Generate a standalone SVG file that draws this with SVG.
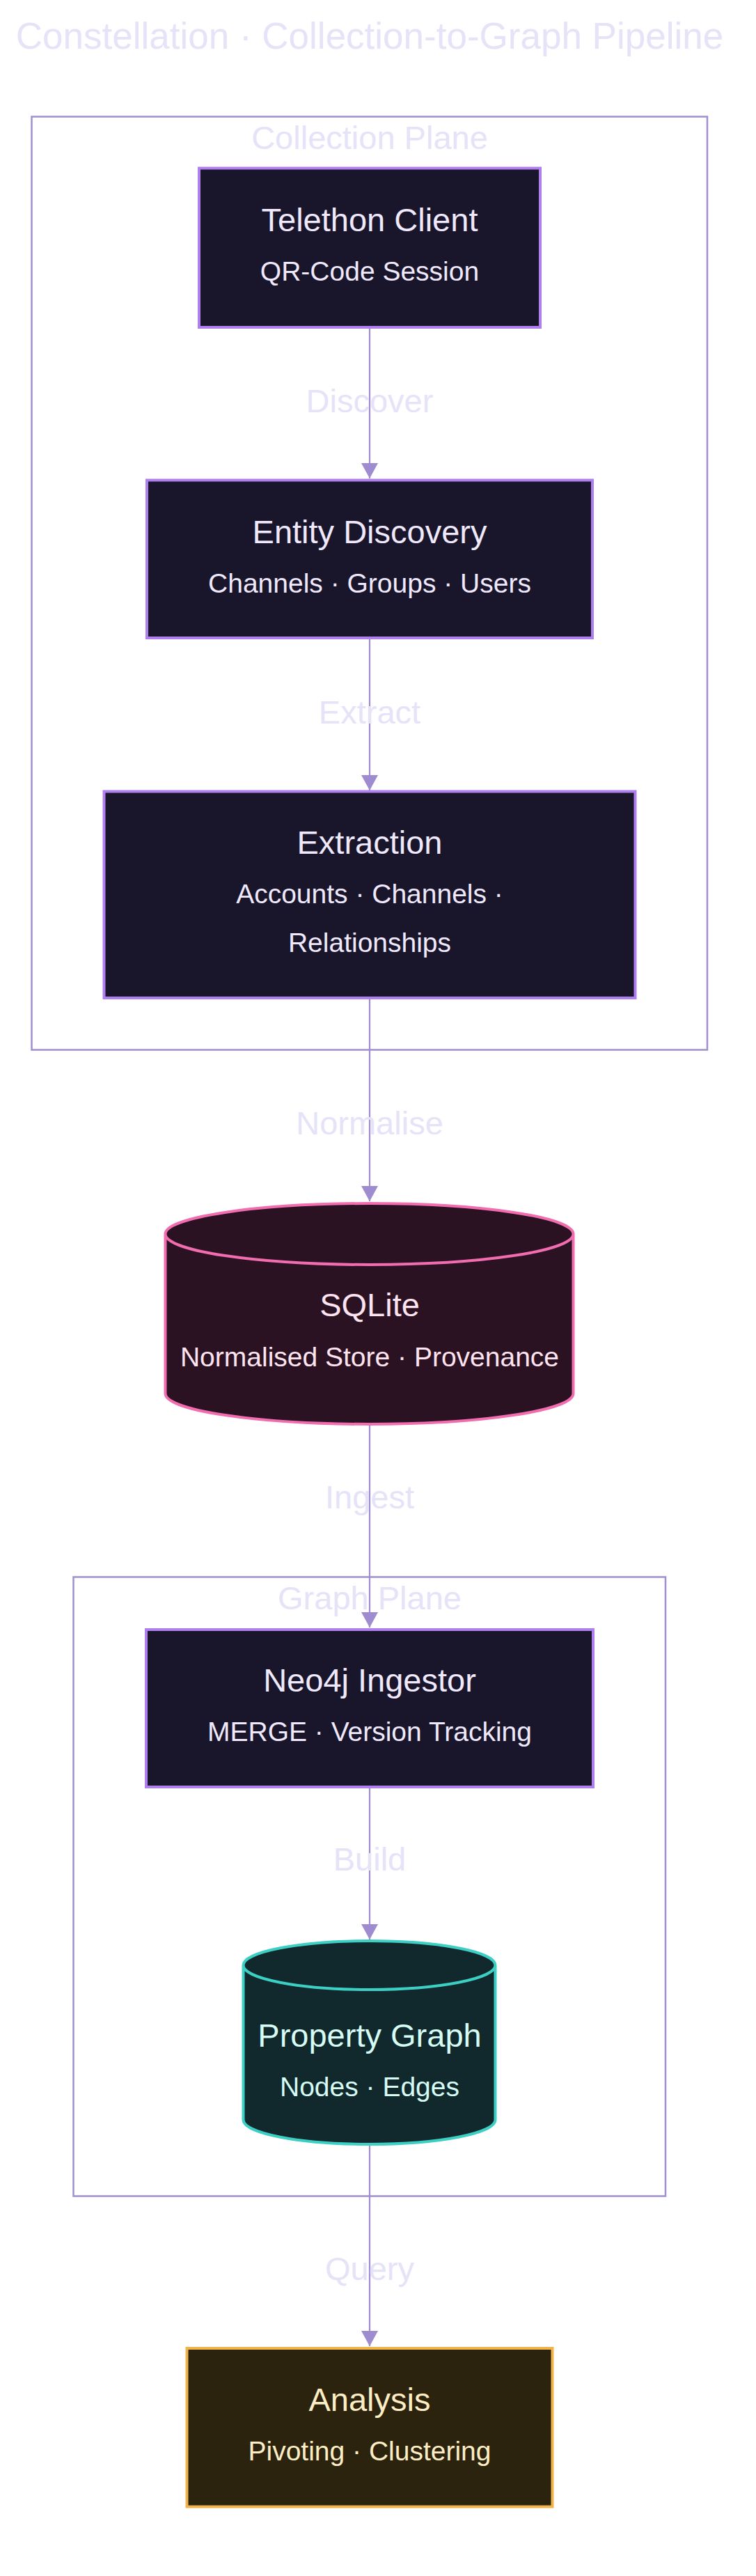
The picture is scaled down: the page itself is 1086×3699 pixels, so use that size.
<svg xmlns="http://www.w3.org/2000/svg" width="1086" height="3699" viewBox="0 0 1086 3699">
  <defs>
    <marker id="arrow" markerUnits="userSpaceOnUse" viewBox="0 0 22 24" markerWidth="22" markerHeight="24" refX="22" refY="12" orient="auto">
      <path d="M0,0 L22,12 L0,24 z" fill="#9f8cd0"/>
    </marker>
    <style>
      text { font-family: "Liberation Sans", Arial, sans-serif; text-anchor: middle; }
      .title { font-size: 53px; fill: #e6e2f8; }
      .cluster { fill: none; stroke: #a08fd1; stroke-width: 2.5; }
      .clabel { font-size: 47px; fill: #e6e2f8; }
      .elabel { font-size: 47px; fill: #e6e2f8; }
      .edge { fill: none; stroke: #9f8cd0; stroke-width: 2.2; marker-end: url(#arrow); }
      .proc rect { fill: #19162b; stroke: #b07fee; stroke-width: 4; }
      .proc text { fill: #efe9fb; }
      .store path { fill: #2b1222; stroke: #f26db0; stroke-width: 4; }
      .store text { fill: #fde4f0; }
      .graph path { fill: #11292c; stroke: #3ccfc4; stroke-width: 4; }
      .graph text { fill: #d5fbf4; }
      .out rect { fill: #2b230d; stroke: #efb54a; stroke-width: 4; }
      .out text { fill: #fdedc5; }
      .h { font-size: 47px; }
      .s { font-size: 39px; }
    </style>
  </defs>

  <rect x="0" y="0" width="1086" height="3699" fill="#ffffff"/>

  <text class="title" x="531" y="70">Constellation · Collection-to-Graph Pipeline</text>

  <g id="cluster-collection">
    <rect class="cluster" x="45.5" y="167.5" width="970.5" height="1340"/>
    <text class="clabel" x="531" y="214">Collection Plane</text>
  </g>

  <g id="cluster-graph">
    <rect class="cluster" x="105.5" y="2264.5" width="850.5" height="889"/>
    <text class="clabel" x="531" y="2311">Graph Plane</text>
  </g>

  <g id="connectors">
    <line class="edge" x1="531" y1="472" x2="531" y2="687"/>
    <line class="edge" x1="531" y1="918" x2="531" y2="1135"/>
    <line class="edge" x1="531" y1="1435" x2="531" y2="1725"/>
    <line class="edge" x1="531" y1="2047" x2="531" y2="2337"/>
    <line class="edge" x1="531" y1="2568" x2="531" y2="2785"/>
    <line class="edge" x1="531" y1="3081" x2="531" y2="3369"/>
    <text class="elabel" x="531" y="592">Discover</text>
    <text class="elabel" x="531" y="1039">Extract</text>
    <text class="elabel" x="531" y="1629">Normalise</text>
    <text class="elabel" x="531" y="2166">Ingest</text>
    <text class="elabel" x="531" y="2686">Build</text>
    <text class="elabel" x="531" y="3274">Query</text>
  </g>

  <g id="telethon-client" class="proc">
    <rect x="286" y="241.5" width="490" height="228.5"/>
    <text class="h" x="531" y="332">Telethon Client</text>
    <text class="s" x="531" y="403">QR-Code Session</text>
  </g>

  <g id="entity-discovery" class="proc">
    <rect x="211" y="689.5" width="640" height="226.5"/>
    <text class="h" x="531" y="780">Entity Discovery</text>
    <text class="s" x="531" y="851">Channels · Groups · Users</text>
  </g>

  <g id="extraction" class="proc">
    <rect x="149.5" y="1136.5" width="763" height="296.5"/>
    <text class="h" x="531" y="1226">Extraction</text>
    <text class="s" x="531" y="1297">Accounts · Channels ·</text>
    <text class="s" x="531" y="1367">Relationships</text>
  </g>

  <g id="sqlite" class="store">
    <path d="M237.5,1772 a293,44 0 0 0 586,0 a293,44 0 0 0 -586,0 l0,229 a293,44 0 0 0 586,0 l0,-229"/>
    <text class="h" x="531" y="1890">SQLite</text>
    <text class="s" x="531" y="1962">Normalised Store · Provenance</text>
  </g>

  <g id="neo4j-ingestor" class="proc">
    <rect x="210" y="2340" width="642" height="226"/>
    <text class="h" x="531" y="2429">Neo4j Ingestor</text>
    <text class="s" x="531" y="2500">MERGE · Version Tracking</text>
  </g>

  <g id="property-graph" class="graph">
    <path d="M349.5,2822 a181,35 0 0 0 362,0 a181,35 0 0 0 -362,0 l0,222 a181,35 0 0 0 362,0 l0,-222"/>
    <text class="h" x="531" y="2939">Property Graph</text>
    <text class="s" x="531" y="3010">Nodes · Edges</text>
  </g>

  <g id="analysis" class="out">
    <rect x="268.5" y="3372" width="525" height="227.5"/>
    <text class="h" x="531" y="3462">Analysis</text>
    <text class="s" x="531" y="3533">Pivoting · Clustering</text>
  </g>
</svg>
